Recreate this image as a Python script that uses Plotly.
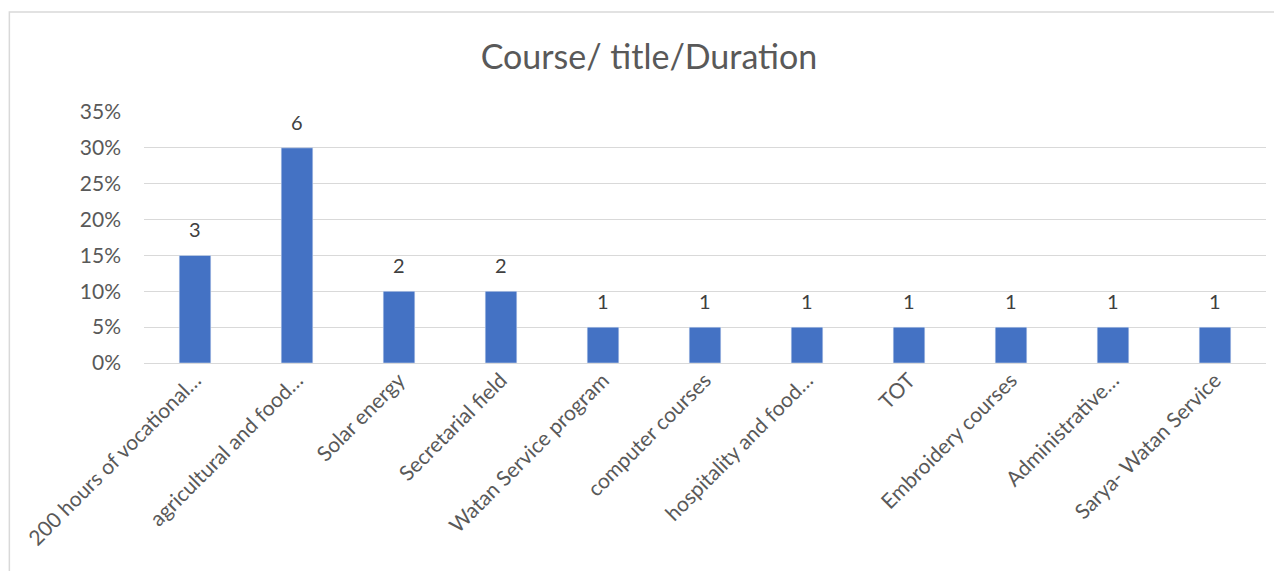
import plotly.graph_objects as go

# course categories, share of respondents and counts shown as labels
courses = [
    "200 hours of vocational…",
    "agricultural and food…",
    "Solar energy",
    "Secretarial field",
    "Watan Service program",
    "computer courses",
    "hospitality and food…",
    "TOT",
    "Embroidery courses",
    "Administrative…",
    "Sarya- Watan Service",
]
share = [0.15, 0.30, 0.10, 0.10, 0.05, 0.05, 0.05, 0.05, 0.05, 0.05, 0.05]
counts = [3, 6, 2, 2, 1, 1, 1, 1, 1, 1, 1]
y_ticks = [0, 0.05, 0.10, 0.15, 0.20, 0.25, 0.30, 0.35]

font_family = "Lato, Open Sans, sans-serif"
grey = "#595959"

fig = go.Figure(
    go.Bar(
        x=courses,
        y=share,
        marker=dict(color="#4472C4"),
        width=0.31,
        hoverinfo="x+y",
    )
)

# count labels floating above each bar
for c, s, n in zip(courses, share, counts):
    fig.add_annotation(
        x=c, y=s, text=str(n),
        showarrow=False, yanchor="middle", yshift=26,
        font=dict(size=20, color="#404040", family=font_family),
    )

fig.update_layout(
    width=1282,
    height=571,
    margin=dict(l=136, r=24, t=104, b=216),
    paper_bgcolor="white",
    plot_bgcolor="white",
    showlegend=False,
    title=dict(
        text="Course/ title/Duration",
        x=0.5,
        xanchor="center",
        y=0.914,
        yanchor="middle",
        font=dict(size=34, color=grey, family=font_family),
    ),
    font=dict(family=font_family, color=grey),
)

fig.update_xaxes(
    tickangle=-45,
    tickfont=dict(size=21, color=grey),
    showgrid=False,
    showline=False,
    ticks="",
)
fig.update_yaxes(
    range=[0, 0.35],
    tickvals=y_ticks,
    tickformat=".0%",
    tickfont=dict(size=21, color=grey),
    ticklabelstandoff=22,
    showgrid=True,
    gridcolor="#D9D9D9",
    gridwidth=1,
    zeroline=True,
    zerolinecolor="#D9D9D9",
    zerolinewidth=1,
    ticks="",
)

# light chart-area frame, as in the spreadsheet export
fig.add_shape(
    type="rect",
    xref="paper", yref="paper",
    x0=-0.12, x1=1.05, y0=-0.9, y1=1.398,
    line=dict(color="#D9D9D9", width=1.5),
    layer="below",
)

fig.write_html("out.html")
